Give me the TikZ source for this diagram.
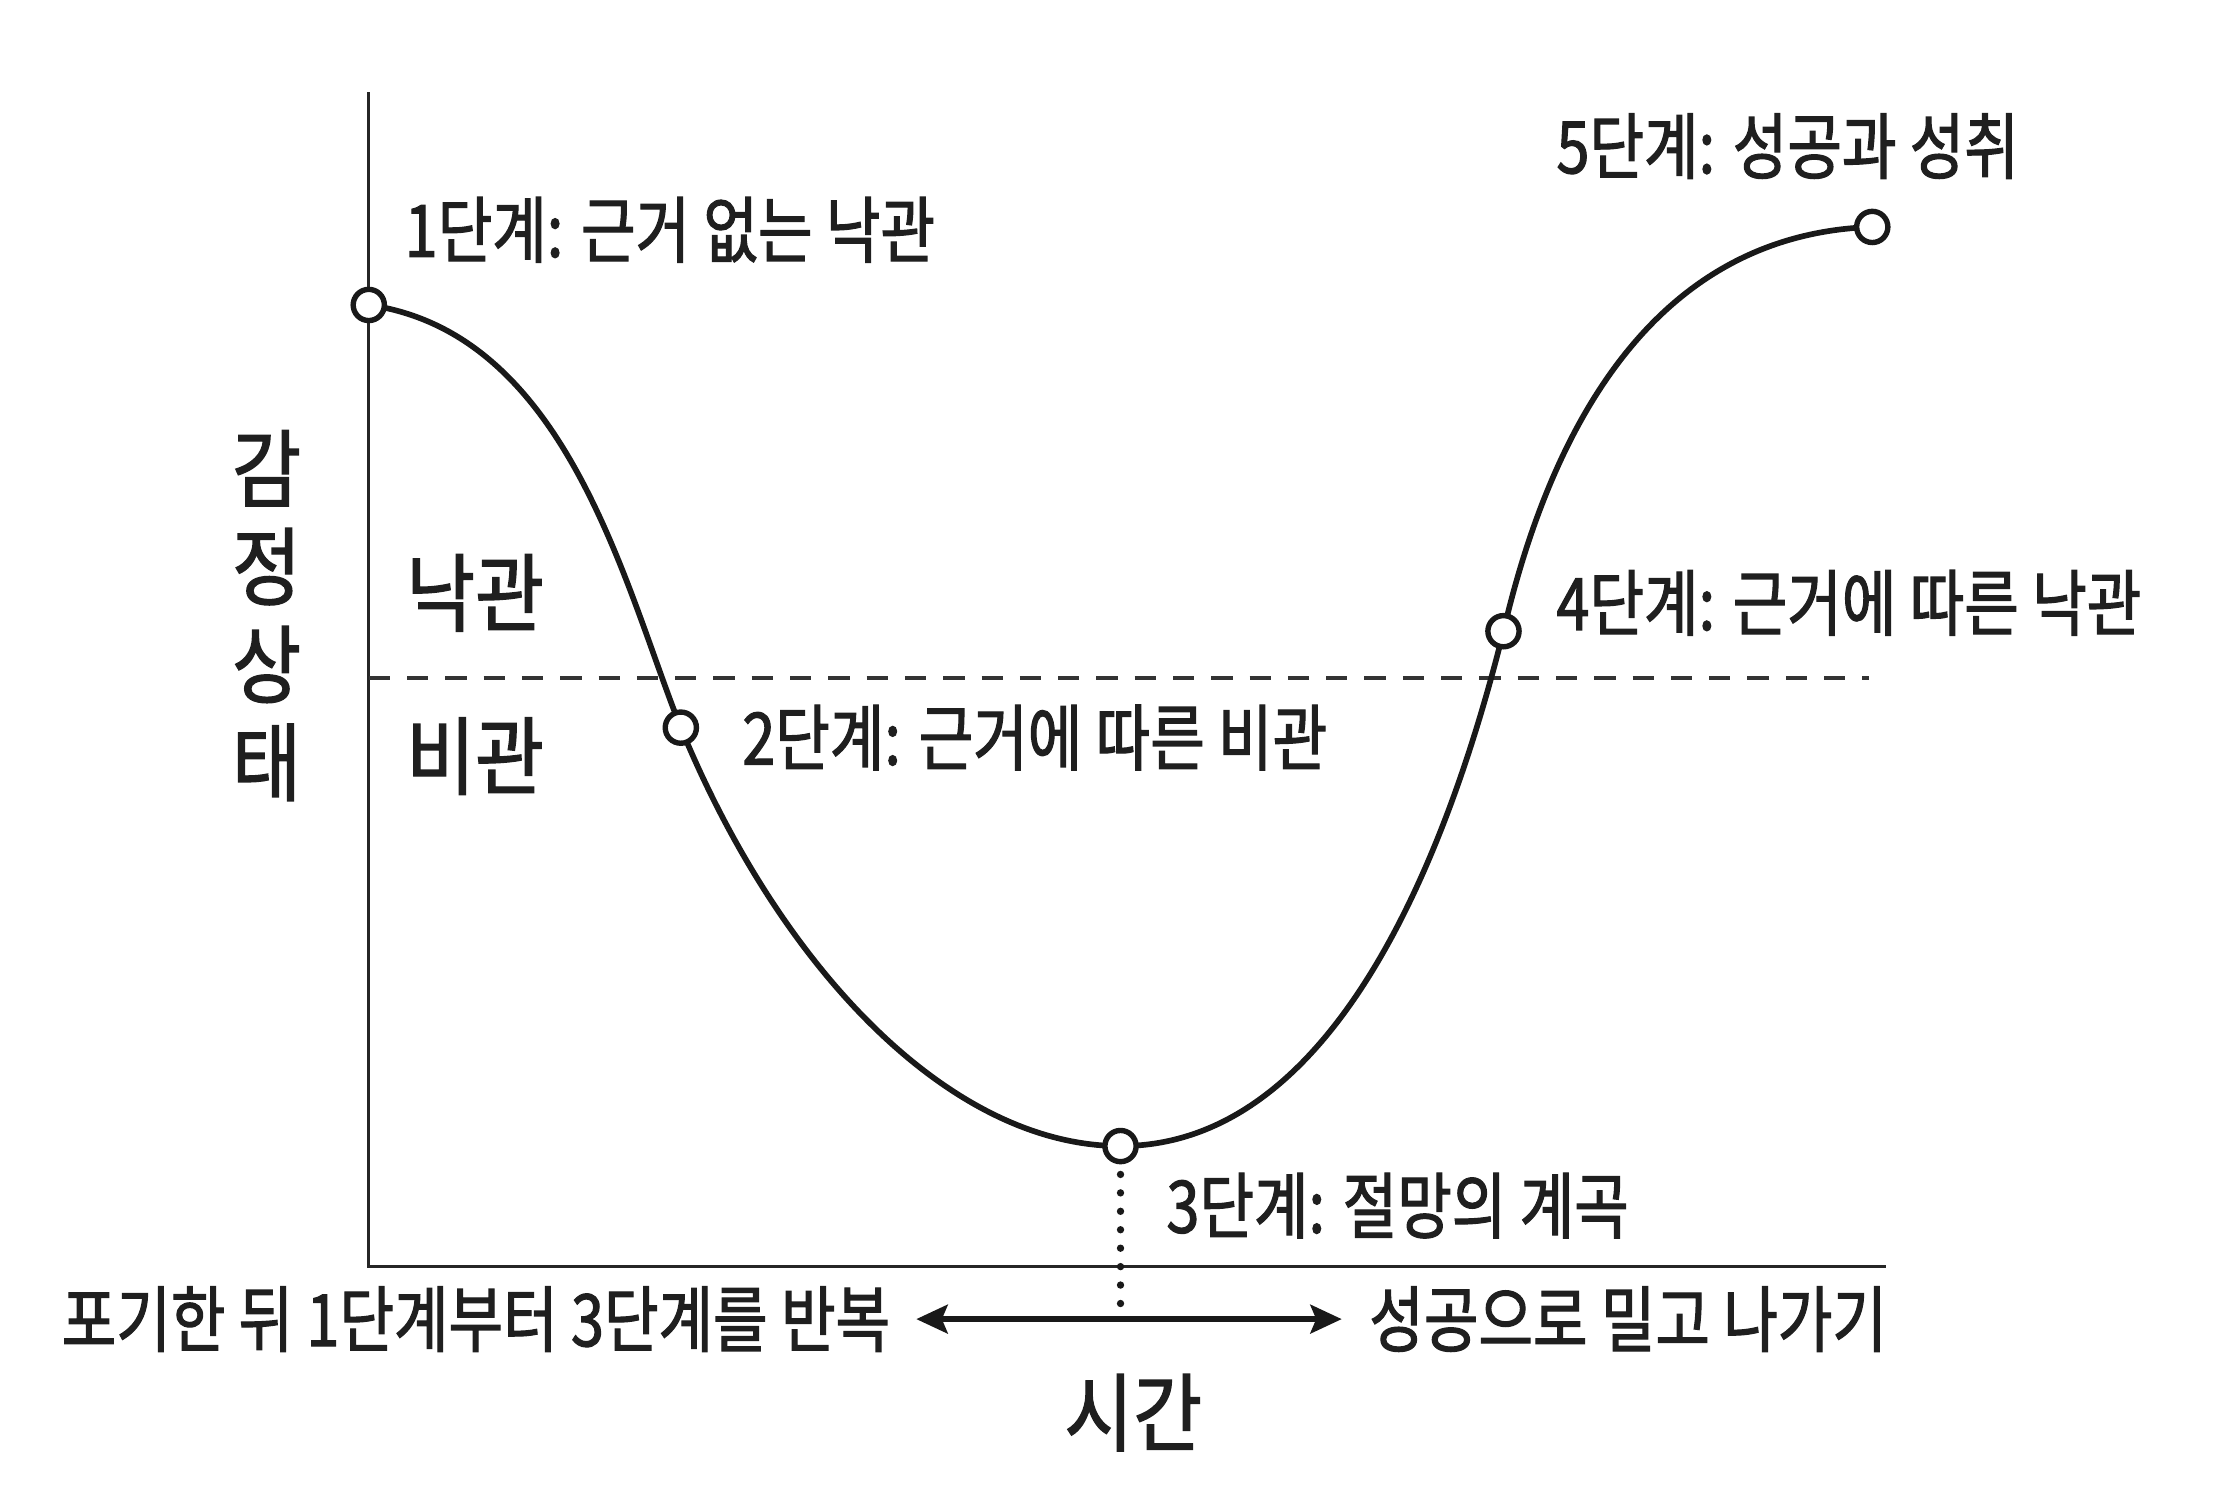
\documentclass[tikz,border=0pt]{standalone}
\usepackage{fontspec}
\newfontfamily\kr[FakeStretch=0.82,FakeBold=1.6]{Noto Sans CJK KR}
\newfontfamily\krb[FakeStretch=0.88,FakeBold=1.6]{Noto Sans CJK KR}
\usetikzlibrary{arrows.meta}
\begin{document}
\begin{tikzpicture}[x=0.5pt,y=-0.5pt,
  lbl/.style={font=\kr\fontsize{25.5}{30}\selectfont, text=black!88, inner sep=0pt},
  big/.style={font=\krb\fontsize{30}{34}\selectfont, text=black!88, inner sep=0pt},
  stage/.style={circle, draw=black!90, fill=white, line width=1.9pt, minimum size=11pt, inner sep=0pt},
  axis/.style={draw=black!85, line width=1.1pt},
  curve/.style={draw=black!90, line width=2pt},
  divider/.style={draw=black!80, line width=1.1pt, dash pattern=on 7.5pt off 6pt},
  dots/.style={draw=black!90, line width=2.6pt, line cap=round, dash pattern=on 0pt off 6.5pt},
  dblarrow/.style={draw=black!90, line width=2.3pt, {Stealth[length=11pt,width=10pt,inset=2pt]}-{Stealth[length=11pt,width=10pt,inset=2pt]}}
]
\useasboundingbox (0,0) rectangle (1568,1062);
% axes
\coordinate (ytop) at (260,65);
\coordinate (orig) at (260,893);
\coordinate (xend) at (1330,893);
\draw[axis] (ytop) -- (orig) -- (xend);
% divider
\coordinate (dl) at (260,478);
\coordinate (dr) at (1318,478);
\draw[divider] (dl) -- (dr);
% curve points
\coordinate (c1) at (260,215);
\coordinate (c2) at (480,513);
\coordinate (c3) at (790,808);
\coordinate (c4) at (1060,445);
\coordinate (c5) at (1320,160);
\draw[curve] (c1) .. controls +(140,20) and +(-40,-100) .. (c2)
  .. controls +(70,170) and +(-120,0) .. (c3)
  .. controls +(150,0) and +(-40,160) .. (c4)
  .. controls +(35,-150) and +(-150,5) .. (c5);
% dotted drop line
\coordinate (dd) at (790,920);
\draw[dots] (790,828) -- (dd);
% stage markers
\node[stage] (p1) at (c1) {};
\node[stage] (p2) at (c2) {};
\node[stage] (p3) at (c3) {};
\node[stage] (p4) at (c4) {};
\node[stage] (p5) at (c5) {};
% double arrow
\coordinate (al) at (646,930);
\coordinate (ar) at (946,930);
\draw[dblarrow] (al) -- (ar);
% labels
\node[lbl, anchor=west] (t1) at (285,162) {1단계: 근거 없는 낙관};
\node[lbl, anchor=west] (t5) at (1097,103) {5단계: 성공과 성취};
\node[lbl, anchor=west] (t2) at (523,520) {2단계: 근거에 따른 비관};
\node[lbl, anchor=west] (t4) at (1097,425) {4단계: 근거에 따른 낙관};
\node[lbl, anchor=west] (t3) at (822,850) {3단계: 절망의 계곡};
\node[lbl, anchor=east] (tl) at (628,930) {포기한 뒤 1단계부터 3단계를 반복};
\node[lbl, anchor=west] (tr) at (965,930) {성공으로 밀고 나가기};
\node[big] (time) at (799,996) {시간};
\node[big] (opt) at (335,418) {낙관};
\node[big] (pes) at (335,533) {비관};
\node[big, align=center, font=\krb\fontsize{30}{34.5}\selectfont] (emo) at (188,434) {감\\정\\상\\태};
\end{tikzpicture}
\end{document}
